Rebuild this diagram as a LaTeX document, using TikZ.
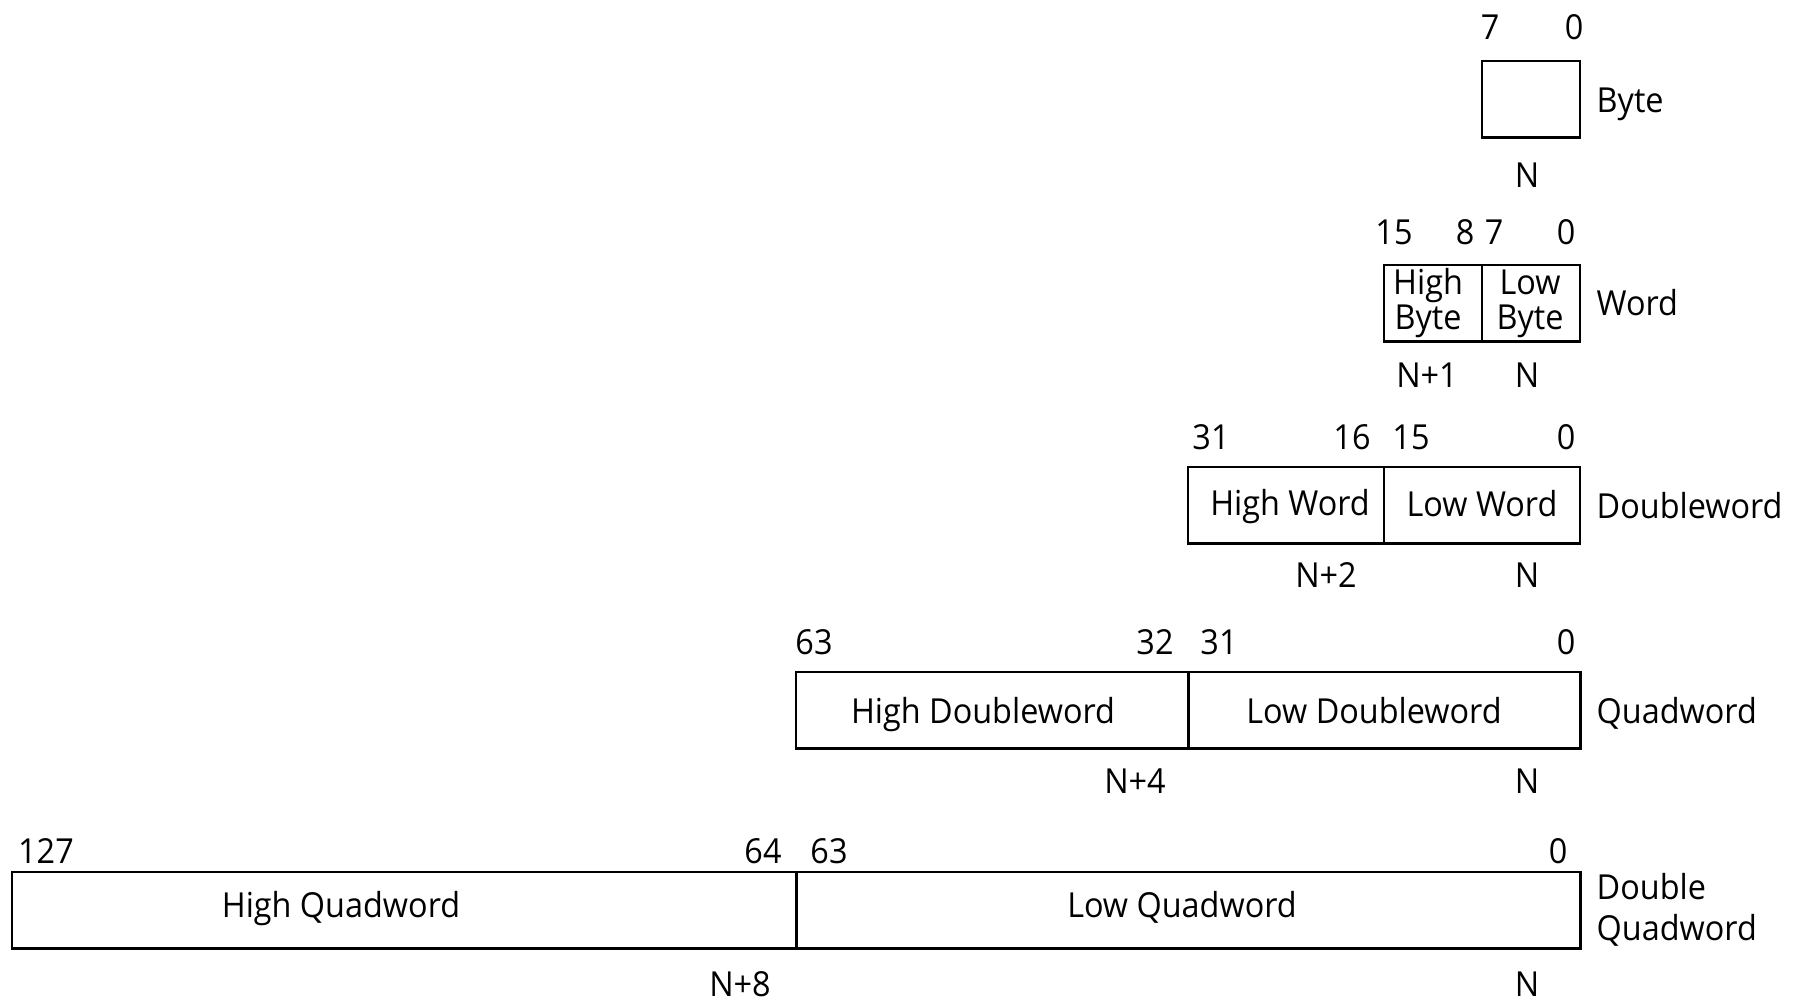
\documentclass[tikz,border=0pt]{standalone}
\usepackage{fontspec}
\setmainfont{Open Sans}[FakeStretch=0.94]
\begin{document}
\begin{tikzpicture}[x=0.01cm,y=-0.01cm,
  cell/.style={draw, line width=0.75pt, inner sep=0pt, outer sep=0pt, anchor=north west, minimum height=0.765cm},
  lbl/.style={inner sep=0pt, anchor=base, font=\fontsize{9.8}{9.96}\selectfont},
  typ/.style={lbl, anchor=base west}]
\useasboundingbox (0,0) rectangle (1800,1000);
% Byte
\node[cell, minimum width=0.98cm] (byte) at (1482,61) {};
\node[lbl] (b7) at (1490,39) {7};
\node[lbl] (b0) at (1574,39) {0};
\node[typ] (tbyte) at (1596,112) {Byte};
\node[lbl] (bN) at (1527,187) {N};
% Word
\node[cell, minimum width=0.98cm] (hb) at (1384,265) {};
\node[cell, minimum width=0.98cm] (lb) at (1482,265) {};
\node[lbl] (thb1) at (1428,294) {High};
\node[lbl] (thb2) at (1428,329) {Byte};
\node[lbl] (tlb1) at (1530,294) {Low};
\node[lbl] (tlb2) at (1530,329) {Byte};
\node[lbl] (w15) at (1394,244) {15};
\node[lbl] (w8) at (1465,244) {8};
\node[lbl] (w7) at (1494,244) {7};
\node[lbl] (w0) at (1566,244) {0};
\node[typ] (tword) at (1596,315) {Word};
\node[lbl] (wN1) at (1427,387) {N+1};
\node[lbl] (wN) at (1527,387) {N};
% Doubleword
\node[cell, minimum width=1.96cm] (hw) at (1188,467) {};
\node[cell, minimum width=1.96cm] (lw) at (1384,467) {};
\node[lbl] (thw) at (1290,515) {High Word};
\node[lbl] (tlw) at (1482,516) {Low Word};
\node[lbl] (d31) at (1211,449) {31};
\node[lbl] (d16) at (1352,449) {16};
\node[lbl] (d15) at (1411,449) {15};
\node[lbl] (d0) at (1566,449) {0};
\node[typ] (tdw) at (1596,518) {Doubleword};
\node[lbl] (dN2) at (1326,587) {N+2};
\node[lbl] (dN) at (1527,587) {N};
% Quadword
\node[cell, minimum width=3.92cm] (hd) at (796,672) {};
\node[cell, minimum width=3.92cm] (ld) at (1188,672) {};
\node[lbl] (thd) at (983,723) {High Doubleword};
\node[lbl] (tld) at (1374,723) {Low Doubleword};
\node[lbl] (q63) at (814,654) {63};
\node[lbl] (q32) at (1155,654) {32};
\node[lbl] (q31) at (1219,654) {31};
\node[lbl] (q0) at (1566,654) {0};
\node[typ] (tqw) at (1596,723) {Quadword};
\node[lbl] (qN4) at (1135,793) {N+4};
\node[lbl] (qN) at (1527,793) {N};
% Double Quadword
\node[cell, minimum width=7.84cm] (hq) at (12,872) {};
\node[cell, minimum width=7.84cm] (lq) at (796,872) {};
\node[lbl] (thq) at (341,917) {High Quadword};
\node[lbl] (tlq) at (1182,917) {Low Quadword};
\node[lbl] (x127) at (46,863) {127};
\node[lbl] (x64) at (763,863) {64};
\node[lbl] (x63) at (829,863) {63};
\node[lbl] (x0) at (1558,863) {0};
\node[typ] (tdq1) at (1596,899) {Double};
\node[typ] (tdq2) at (1596,940) {Quadword};
\node[lbl] (xN8) at (740,996) {N+8};
\node[lbl] (xN) at (1527,996) {N};
\end{tikzpicture}
\end{document}
